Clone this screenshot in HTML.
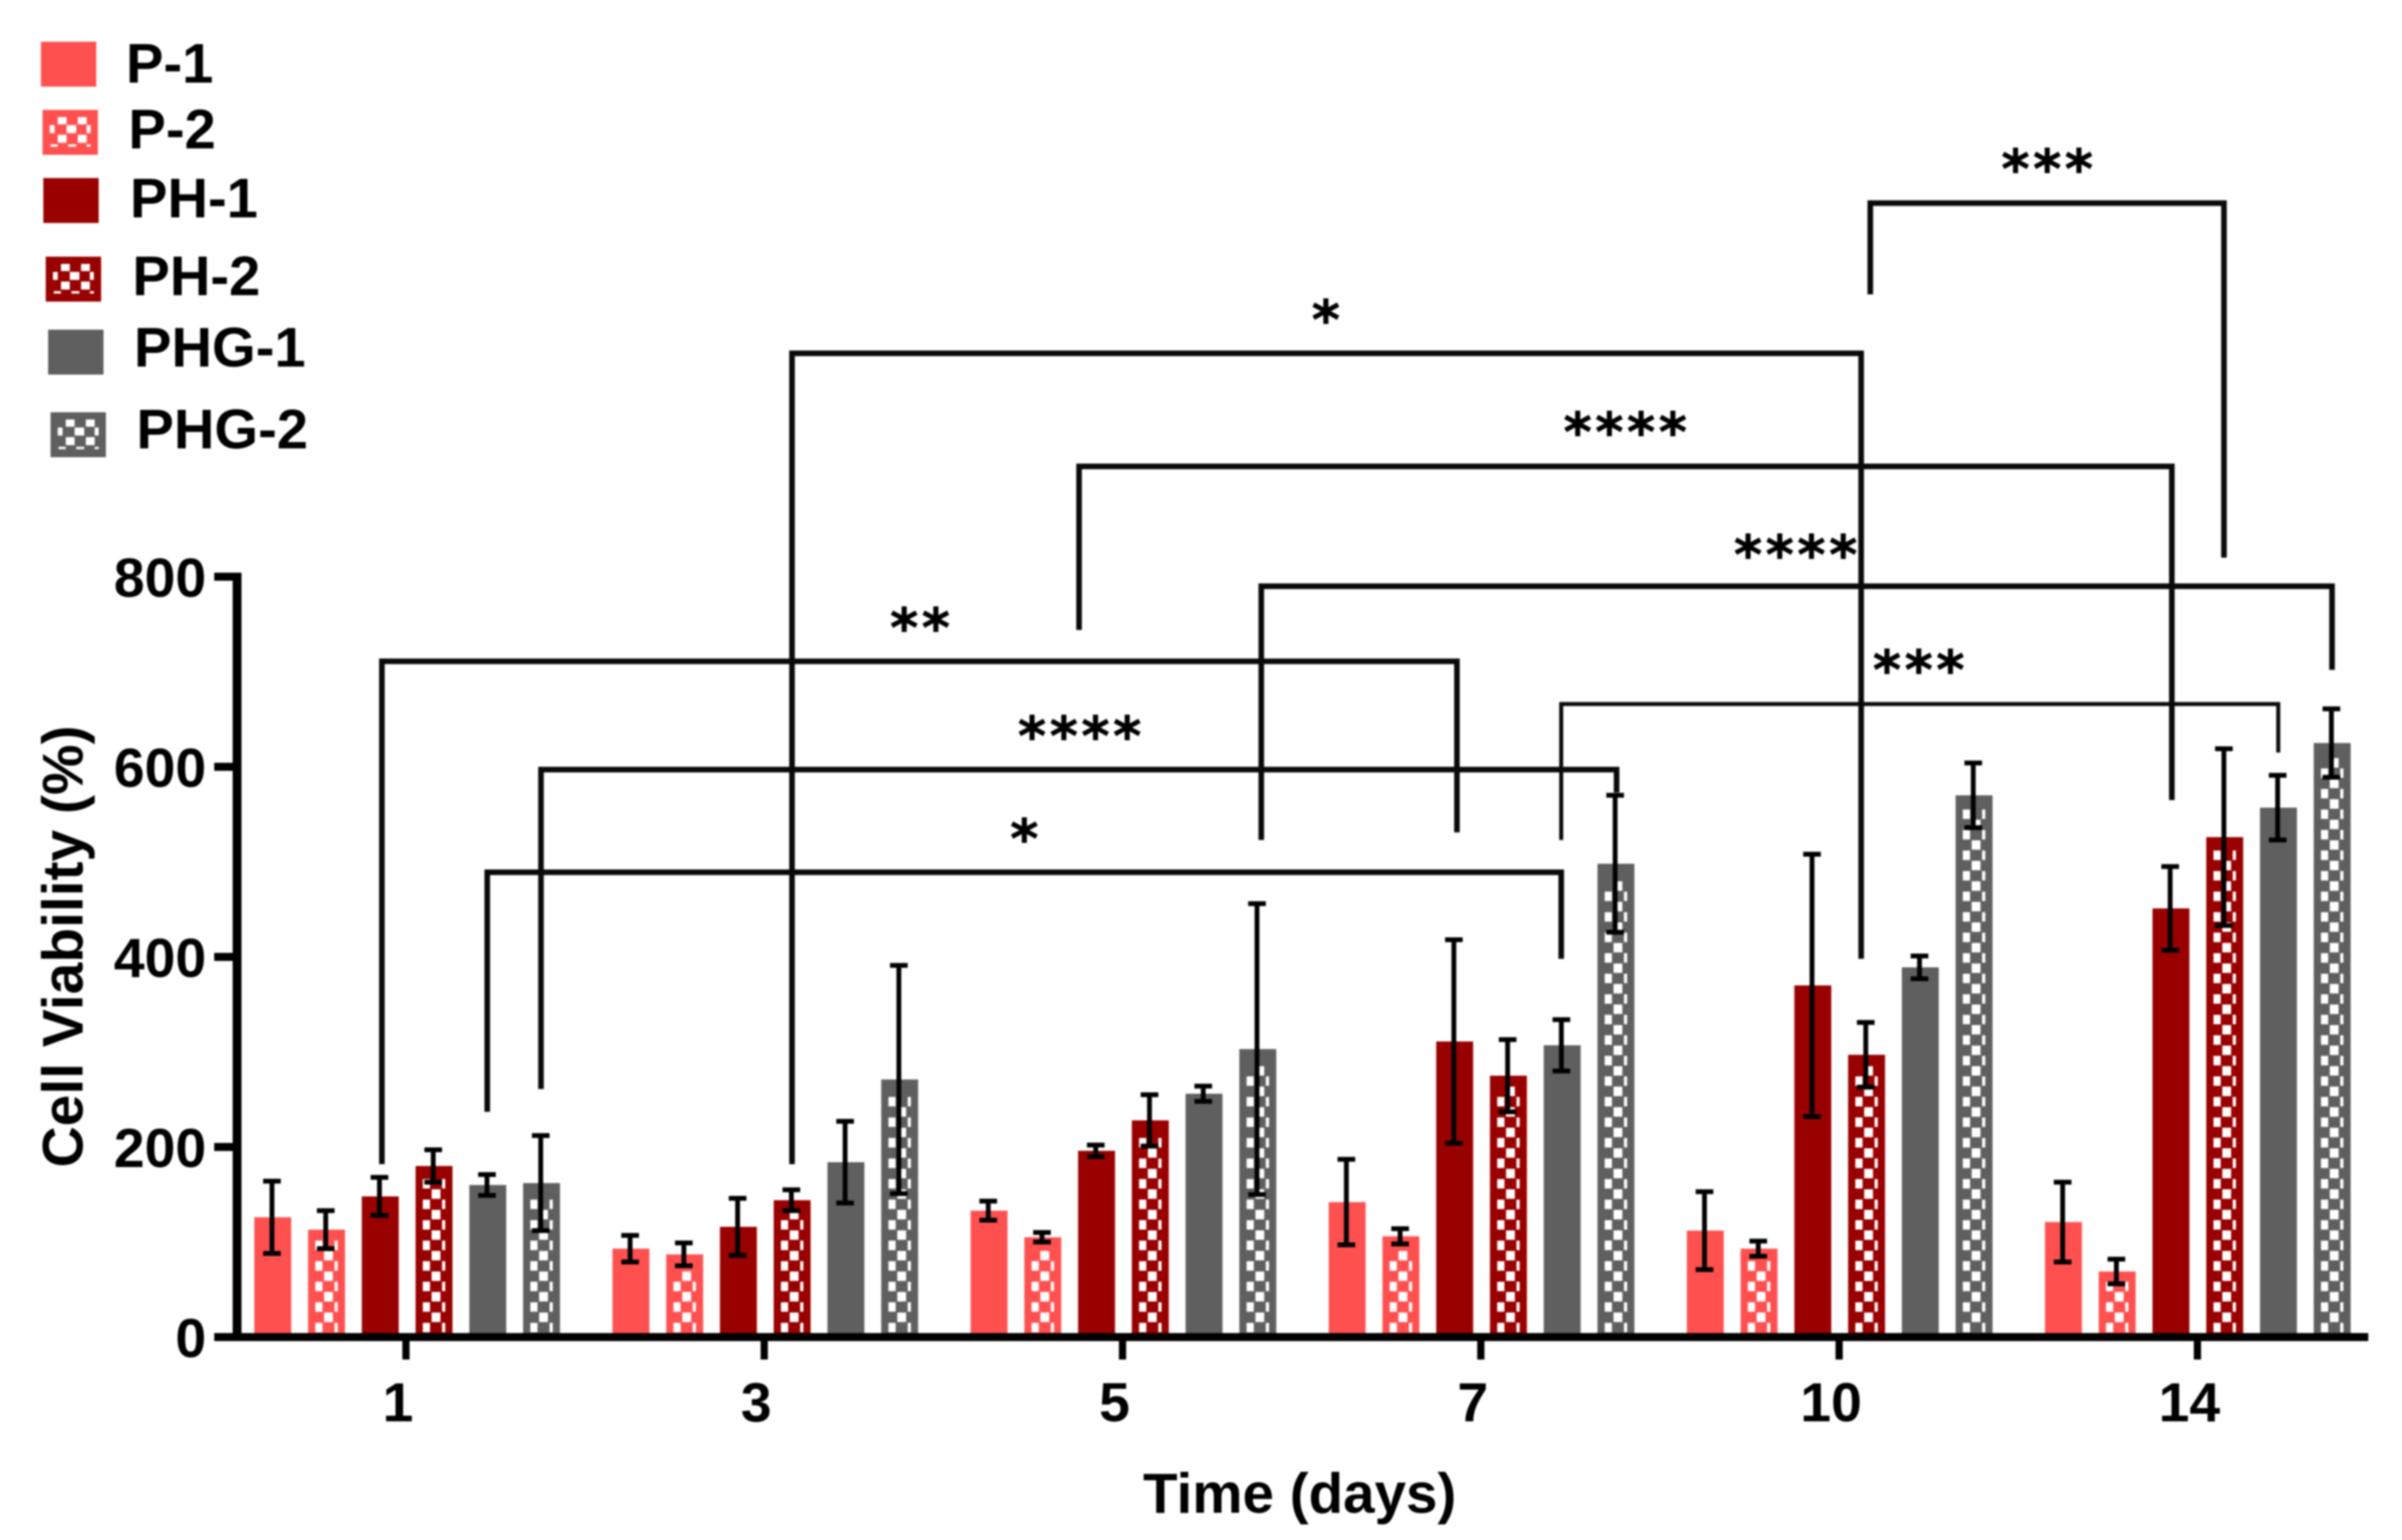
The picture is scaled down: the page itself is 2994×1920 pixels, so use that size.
<!DOCTYPE html>
<html lang="en">
<head>
<meta charset="utf-8">
<title>Cell Viability over Time</title>
<style>
  html, body { margin: 0; padding: 0; background: #fff; }
  #chart { display: block; width: 2994px; height: 1920px; filter: blur(1px); }
  text { font-family: "Liberation Sans", Arial, sans-serif; font-weight: 700; fill: #000; }
  text.stars { font-family: "DejaVu Sans", sans-serif; letter-spacing: 4.5px; font-size: 67px; stroke: #000; stroke-width: 0.8px; }
</style>
</head>
<body>
<svg id="chart" xmlns="http://www.w3.org/2000/svg" width="2994" height="1920" viewBox="0 0 2994 1920">
  <rect x="0" y="0" width="2994" height="1920" fill="#ffffff"></rect>
  <g id="legend"></g>
  <g id="bars"></g>
  <g id="errors"></g>
  <g id="axes"></g>
  <g id="brackets"></g>
  <text x="1620" y="1886" font-size="70.5" text-anchor="middle">Time (days)</text>
  <text x="0" y="0" font-size="71" text-anchor="middle" transform="translate(103 1180) rotate(-90)">Cell Viability (%)</text>
</svg>
<script>
// ---- chart data ----
const categories = ['1', '3', '5', '7', '10', '14'];
const yTicks = [0, 200, 400, 600, 800];
const seriesNames = ['P-1', 'P-2', 'PH-1', 'PH-2', 'PHG-1', 'PHG-2'];
const seriesColors = ['#ff5050', '#ff5050', '#990000', '#990000', '#5f5f5f', '#5f5f5f'];
const seriesChecked = [false, true, false, true, false, true];

const p1Values = [126, 93, 133, 142, 112, 121];
const p1Errors = [38, 14, 10, 45, 41, 42];
const p2Values = [113, 87, 105, 106, 93, 69];
const p2Errors = [20, 12, 5, 8, 8, 13];
const ph1Values = [148, 116, 196, 311, 370, 451];
const ph1Errors = [20, 30, 6, 107, 138, 44];
const ph2Values = [180, 144, 228, 275, 297, 526];
const ph2Errors = [17, 11, 27, 38, 34, 93];
const phg1Values = [160, 184, 256, 307, 389, 557];
const phg1Errors = [11, 43, 8, 27, 12, 34];
const phg2Values = [162, 271, 303, 498, 570, 625];
const phg2Errors = [50, 120, 153, 72, 34, 36];

const allValues = [p1Values, p2Values, ph1Values, ph2Values, phg1Values, phg2Values];
const allErrors = [p1Errors, p2Errors, ph1Errors, ph2Errors, phg1Errors, phg2Errors];

// significance brackets: horizontal extent in bar slots, levels in axis units
const bracketLabels = ['***', '*', '****', '****', '**', '***', '****', '*'];
const bracketFromSlot = [29.72, 9.66, 15.0, 18.39, 2.03, 23.97, 4.99, 3.99];
const bracketToSlot = [36.3, 29.55, 35.33, 38.31, 22.03, 37.31, 25.0, 23.97];
const bracketLevel = [1193, 1035, 916, 790, 711, 666, 597, 489];
const bracketFromEnd = [1097, 182, 744, 523, 182, 523, 261, 237];
const bracketToEnd = [820, 398, 565, 702, 531, 615, 573, 398];
const bracketLabelSlot = [33.0, 19.58, 25.15, 28.32, 12.03, 30.61, 15.0, 13.97];
const bracketLabelLevel = [1239, 1080, 962, 833, 756, 712, 642, 534];
const bracketThin = [false, false, false, false, false, true, false, false];

// ---- axis functions ----
const baseY = 1667;
const unitPx = 1.185;
const barWidth = 46;
const barStep = 67;
const groupStep = 446.4;
const firstBarCenter = 340;
function yScale(v) { return baseY - v * unitPx; }
function barCenter(g, s) { return firstBarCenter + g * groupStep + s * barStep; }
function slotX(slot) { return firstBarCenter + slot * barStep; }
function groupTickX(g) { return 506 + g * 446.6; }

const NS = 'http://www.w3.org/2000/svg';
function make(tag, parent, attrs) {
  const node = document.createElementNS(NS, tag);
  for (const k in attrs) node.setAttribute(k, attrs[k]);
  parent.appendChild(node);
  return node;
}

// ---- bars ----
const barsG = document.getElementById('bars');
const errorsG = document.getElementById('errors');
function checkerPath(x, top) {
  const cell = 12.8;
  let d = '';
  const usable = baseY - 5 - top - 10;
  const rows = Math.max(0, Math.floor(usable / cell));
  for (let r = 0; r < rows; r++) {
    const y = baseY - 5 - (r + 1) * cell;
    if (r % 2 === 0) {
      d += 'M' + (x + 9) + ' ' + y + 'h9v' + (cell - 1) + 'h-9z';
      d += 'M' + (x + 33) + ' ' + y + 'h4v' + (cell - 1) + 'h-4z';
    } else {
      d += 'M' + (x + 20) + ' ' + y + 'h11v' + (cell - 1) + 'h-11z';
    }
  }
  return d;
}
categories.forEach(function (cat, g) {
  seriesNames.forEach(function (name, s) {
    const value = allValues[s][g];
    const err = allErrors[s][g];
    const cx = barCenter(g, s);
    const top = yScale(value);
    const bar = make('rect', barsG, { x: cx - barWidth / 2, y: top, width: barWidth, height: baseY - top, fill: seriesColors[s] });
    
    
    if (seriesChecked[s]) {
      const check = make('path', barsG, { d: checkerPath(cx - barWidth / 2, top), fill: '#ffffff' });
      
      
    }
    const hi = yScale(value + err);
    const lo = yScale(value - err);
    const ex = cx - 1;
    const whisker = make('path', errorsG, {
      d: 'M' + ex + ' ' + hi + 'V' + lo + 'M' + (ex - 11) + ' ' + hi + 'H' + (ex + 11) + 'M' + (ex - 11) + ' ' + lo + 'H' + (ex + 11),
      stroke: '#000000', 'stroke-width': 6, fill: 'none'
    });
    
    
  });
});

// ---- axes ----
const axesG = document.getElementById('axes');
const yAxis = make('rect', axesG, { x: 290, y: yScale(800) - 5, width: 11, height: baseY - yScale(800) + 10, fill: '#000000' });


const xAxis = make('rect', axesG, { x: 267, y: baseY - 5, width: 2685, height: 10, fill: '#000000' });


yTicks.forEach(function (t) {
  const y = yScale(t);
  const tick = make('rect', axesG, { x: 267, y: y - 5, width: 26, height: 10, fill: '#000000' });
  
  
  const label = make('text', axesG, { x: 257, y: y + 25, 'font-size': 69, 'text-anchor': 'end' });
  label.textContent = String(t);
  
  
});
categories.forEach(function (cat, g) {
  const x = groupTickX(g);
  const tick = make('rect', axesG, { x: x - 4.5, y: baseY + 5, width: 9, height: 23, fill: '#000000' });
  
  
  const label = make('text', axesG, { x: x - 10, y: 1772, 'font-size': 69, 'text-anchor': 'middle' });
  label.textContent = cat;
  
  
});

// ---- significance brackets ----
const bracketsG = document.getElementById('brackets');
bracketLabels.forEach(function (text, i) {
  const x1 = slotX(bracketFromSlot[i]);
  const x2 = slotX(bracketToSlot[i]);
  const line = make('path', bracketsG, {
    d: 'M' + x1 + ' ' + yScale(bracketFromEnd[i]) + 'V' + yScale(bracketLevel[i]) + 'H' + x2 + 'V' + yScale(bracketToEnd[i]),
    fill: 'none', stroke: '#0a0a0a', 'stroke-width': bracketThin[i] ? 5 : 7
  });
  
  
  const star = make('text', bracketsG, {
    x: slotX(bracketLabelSlot[i]) + 3,
    y: yScale(bracketLabelLevel[i]) + 35,
    'text-anchor': 'middle',
    class: 'stars'
  });
  star.textContent = text;
  
  
});

// ---- legend ----
const legendG = document.getElementById('legend');
const legendSwatchX = [51, 53, 54, 57, 60, 63];
const legendSwatchY = [52, 137, 222, 320, 411, 514];
const legendLabelX = [157, 160, 162, 165, 167, 170];
const legendBaseline = [103, 185, 271, 368, 457, 559];
seriesNames.forEach(function (name, s) {
  const key = name.toLowerCase();
  const sx = legendSwatchX[s];
  const sy = legendSwatchY[s];
  const swatch = make('rect', legendG, { x: sx, y: sy, width: 69, height: 56, fill: seriesColors[s] });
  
  
  if (seriesChecked[s]) {
    let d = '';
    d += 'M' + (sx + 19) + ' ' + (sy + 9) + 'h11v9h-11z';
    d += 'M' + (sx + 44) + ' ' + (sy + 9) + 'h11v9h-11z';
    d += 'M' + (sx + 9) + ' ' + (sy + 19) + 'h6v10h-6z';
    d += 'M' + (sx + 30) + ' ' + (sy + 19) + 'h12v10h-12z';
    d += 'M' + (sx + 55) + ' ' + (sy + 19) + 'h5v10h-5z';
    d += 'M' + (sx + 19) + ' ' + (sy + 31) + 'h11v10h-11z';
    d += 'M' + (sx + 44) + ' ' + (sy + 31) + 'h11v10h-11z';
    d += 'M' + (sx + 10) + ' ' + (sy + 43) + 'h9v3h-9z';
    d += 'M' + (sx + 32) + ' ' + (sy + 43) + 'h10v3h-10z';
    d += 'M' + (sx + 55) + ' ' + (sy + 43) + 'h5v3h-5z';
    const check = make('path', legendG, { d: d, fill: '#ffffff' });
    
    
  }
  const label = make('text', legendG, { x: legendLabelX[s], y: legendBaseline[s], 'font-size': 70 });
  label.textContent = name;
  
  
});
</script>
</body>
</html>
